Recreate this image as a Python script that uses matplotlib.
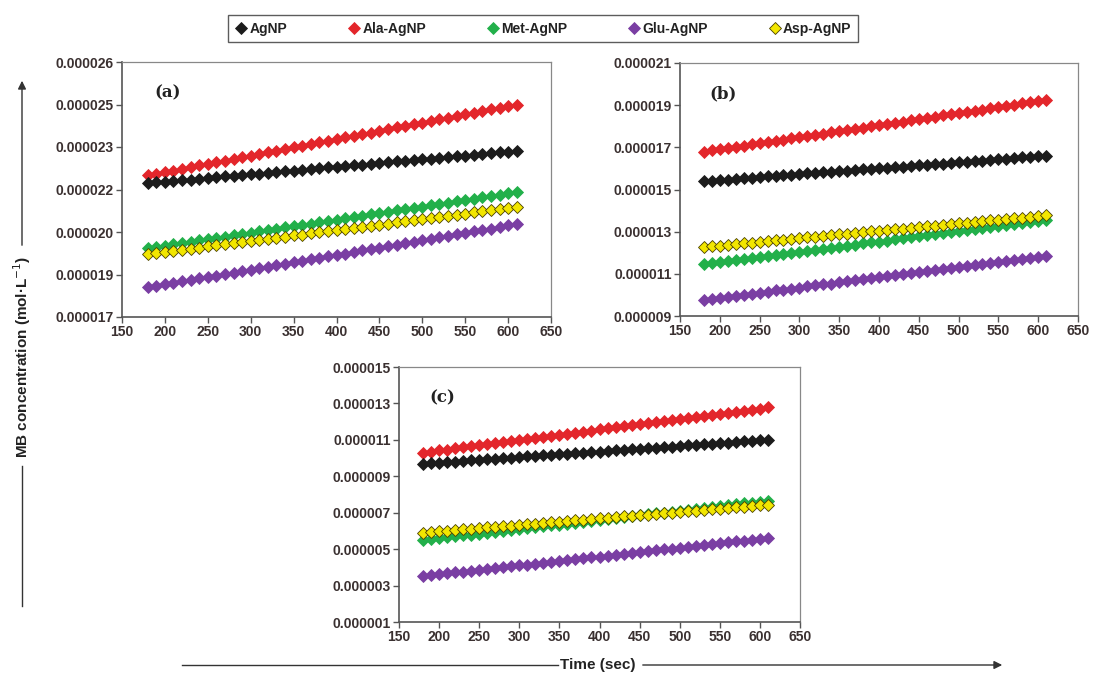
import matplotlib.pyplot as plt
from matplotlib.lines import Line2D
from matplotlib.patches import FancyArrowPatch

plt.rcParams['font.family'] = ['Liberation Sans', 'DejaVu Sans']

# time (sec)
time = [180, 190, 200, 210, 220, 230, 240, 250, 260, 270, 280, 290, 300, 310, 320,
        330, 340, 350, 360, 370, 380, 390, 400, 410, 420, 430, 440, 450, 460, 470,
        480, 490, 500, 510, 520, 530, 540, 550, 560, 570, 580, 590, 600, 610]

names = ["AgNP", "Ala-AgNP", "Met-AgNP", "Glu-AgNP", "Asp-AgNP"]

# MB concentration, in 1e-6 mol/L
# panel (a)
a_agnp = [21.72, 21.75, 21.77, 21.80, 21.83, 21.85, 21.88, 21.91, 21.93, 21.96, 21.99, 22.01, 22.04, 22.06, 22.09,
          22.12, 22.14, 22.17, 22.20, 22.22, 22.25, 22.28, 22.30, 22.33, 22.36, 22.38, 22.41, 22.44, 22.46, 22.49,
          22.52, 22.54, 22.57, 22.59, 22.62, 22.65, 22.67, 22.70, 22.73, 22.75, 22.78, 22.81, 22.83, 22.86]
a_ala = [22.00, 22.06, 22.12, 22.17, 22.23, 22.29, 22.35, 22.41, 22.47, 22.52, 22.58, 22.64, 22.70, 22.76, 22.81,
         22.87, 22.93, 22.99, 23.05, 23.10, 23.16, 23.22, 23.28, 23.34, 23.40, 23.45, 23.51, 23.57, 23.63, 23.69,
         23.74, 23.80, 23.86, 23.92, 23.98, 24.03, 24.09, 24.15, 24.21, 24.27, 24.33, 24.38, 24.44, 24.50]
a_met = [19.43, 19.48, 19.52, 19.57, 19.61, 19.66, 19.71, 19.75, 19.80, 19.84, 19.89, 19.94, 19.98, 20.03, 20.07,
         20.12, 20.17, 20.21, 20.26, 20.30, 20.35, 20.40, 20.44, 20.49, 20.54, 20.58, 20.63, 20.67, 20.72, 20.77,
         20.81, 20.86, 20.90, 20.95, 21.00, 21.04, 21.09, 21.13, 21.18, 21.23, 21.27, 21.32, 21.36, 21.41]
a_glu = [18.05, 18.10, 18.15, 18.21, 18.26, 18.31, 18.36, 18.41, 18.46, 18.52, 18.57, 18.62, 18.67, 18.72, 18.78,
         18.83, 18.88, 18.93, 18.98, 19.04, 19.09, 19.14, 19.19, 19.24, 19.29, 19.35, 19.40, 19.45, 19.50, 19.55,
         19.61, 19.66, 19.71, 19.76, 19.81, 19.87, 19.92, 19.97, 20.02, 20.07, 20.12, 20.18, 20.23, 20.28]
a_asp = [19.22, 19.26, 19.30, 19.34, 19.37, 19.41, 19.45, 19.49, 19.53, 19.57, 19.61, 19.64, 19.68, 19.72, 19.76,
         19.80, 19.84, 19.88, 19.91, 19.95, 19.99, 20.03, 20.07, 20.11, 20.15, 20.19, 20.22, 20.26, 20.30, 20.34,
         20.38, 20.42, 20.46, 20.49, 20.53, 20.57, 20.61, 20.65, 20.69, 20.73, 20.76, 20.80, 20.84, 20.88]

# panel (b)
b_agnp = [15.39, 15.42, 15.45, 15.47, 15.50, 15.53, 15.56, 15.59, 15.62, 15.64, 15.67, 15.70, 15.73, 15.76, 15.78,
          15.81, 15.84, 15.87, 15.90, 15.92, 15.95, 15.98, 16.01, 16.04, 16.06, 16.09, 16.12, 16.15, 16.18, 16.21,
          16.23, 16.26, 16.29, 16.32, 16.35, 16.37, 16.40, 16.43, 16.46, 16.49, 16.52, 16.54, 16.57, 16.60]
b_ala = [16.80, 16.86, 16.91, 16.97, 17.03, 17.08, 17.14, 17.20, 17.26, 17.31, 17.37, 17.43, 17.48, 17.54, 17.60,
         17.65, 17.71, 17.77, 17.83, 17.88, 17.94, 18.00, 18.05, 18.11, 18.17, 18.22, 18.28, 18.34, 18.40, 18.45,
         18.51, 18.57, 18.62, 18.68, 18.74, 18.79, 18.85, 18.91, 18.97, 19.02, 19.08, 19.14, 19.19, 19.25]
b_met = [11.47, 11.52, 11.57, 11.62, 11.66, 11.71, 11.76, 11.81, 11.86, 11.91, 11.95, 12.00, 12.05, 12.10, 12.15,
         12.20, 12.24, 12.29, 12.34, 12.39, 12.44, 12.49, 12.53, 12.58, 12.63, 12.68, 12.73, 12.78, 12.82, 12.87,
         12.92, 12.97, 13.02, 13.07, 13.11, 13.16, 13.21, 13.26, 13.31, 13.36, 13.40, 13.45, 13.50, 13.55]
b_glu = [9.77, 9.82, 9.87, 9.92, 9.96, 10.01, 10.06, 10.11, 10.16, 10.21, 10.25, 10.30, 10.35, 10.40, 10.45,
         10.50, 10.54, 10.59, 10.64, 10.69, 10.74, 10.79, 10.83, 10.88, 10.93, 10.98, 11.03, 11.08, 11.12, 11.17,
         11.22, 11.27, 11.32, 11.37, 11.41, 11.46, 11.51, 11.56, 11.61, 11.66, 11.70, 11.75, 11.80, 11.85]
b_asp = [12.27, 12.31, 12.34, 12.38, 12.41, 12.45, 12.48, 12.52, 12.55, 12.59, 12.62, 12.66, 12.69, 12.73, 12.76,
         12.80, 12.83, 12.87, 12.90, 12.94, 12.97, 13.01, 13.04, 13.08, 13.11, 13.15, 13.18, 13.22, 13.25, 13.29,
         13.32, 13.36, 13.39, 13.43, 13.46, 13.50, 13.53, 13.57, 13.60, 13.64, 13.67, 13.71, 13.74, 13.78]

# panel (c)
c_agnp = [9.69, 9.72, 9.75, 9.78, 9.81, 9.84, 9.87, 9.90, 9.93, 9.96, 9.99, 10.03, 10.06, 10.09, 10.12,
          10.15, 10.18, 10.21, 10.24, 10.27, 10.30, 10.33, 10.36, 10.39, 10.42, 10.45, 10.48, 10.51, 10.54, 10.57,
          10.60, 10.63, 10.66, 10.70, 10.73, 10.76, 10.79, 10.82, 10.85, 10.88, 10.91, 10.94, 10.97, 11.00]
c_ala = [10.30, 10.36, 10.42, 10.47, 10.53, 10.59, 10.65, 10.70, 10.76, 10.82, 10.88, 10.93, 10.99, 11.05, 11.11,
         11.17, 11.22, 11.28, 11.34, 11.40, 11.45, 11.51, 11.57, 11.63, 11.68, 11.74, 11.80, 11.86, 11.91, 11.97,
         12.03, 12.09, 12.15, 12.20, 12.26, 12.32, 12.38, 12.43, 12.49, 12.55, 12.61, 12.66, 12.72, 12.78]
c_met = [5.50, 5.55, 5.60, 5.65, 5.70, 5.75, 5.80, 5.85, 5.90, 5.95, 6.00, 6.05, 6.10, 6.15, 6.20,
         6.25, 6.30, 6.35, 6.40, 6.45, 6.50, 6.55, 6.61, 6.66, 6.71, 6.76, 6.81, 6.86, 6.91, 6.96,
         7.01, 7.06, 7.11, 7.16, 7.21, 7.26, 7.31, 7.36, 7.41, 7.46, 7.51, 7.56, 7.61, 7.66]
c_glu = [3.52, 3.57, 3.62, 3.67, 3.72, 3.76, 3.81, 3.86, 3.91, 3.96, 4.01, 4.06, 4.11, 4.15, 4.20,
         4.25, 4.30, 4.35, 4.40, 4.45, 4.50, 4.55, 4.59, 4.64, 4.69, 4.74, 4.79, 4.84, 4.89, 4.94,
         4.99, 5.03, 5.08, 5.13, 5.18, 5.23, 5.28, 5.33, 5.38, 5.43, 5.47, 5.52, 5.57, 5.62]
c_asp = [5.90, 5.94, 5.97, 6.01, 6.04, 6.08, 6.11, 6.15, 6.19, 6.22, 6.26, 6.29, 6.33, 6.37, 6.40,
         6.44, 6.47, 6.51, 6.54, 6.58, 6.62, 6.65, 6.69, 6.72, 6.76, 6.80, 6.83, 6.87, 6.90, 6.94,
         6.97, 7.01, 7.05, 7.08, 7.12, 7.15, 7.19, 7.22, 7.26, 7.30, 7.33, 7.37, 7.40, 7.44]

# y ticks (1e-6 mol/L) and the labels Excel printed for them
a_yticks = [17, 18.5, 20, 21.5, 23, 24.5, 26]
a_ylabels = ["0.000017", "0.000019", "0.000020", "0.000022", "0.000023", "0.000025", "0.000026"]
b_yticks = [9, 11, 13, 15, 17, 19, 21]
b_ylabels = ["0.000009", "0.000011", "0.000013", "0.000015", "0.000017", "0.000019", "0.000021"]
c_yticks = [1, 3, 5, 7, 9, 11, 13, 15]
c_ylabels = ["0.000001", "0.000003", "0.000005", "0.000007", "0.000009", "0.000011", "0.000013", "0.000015"]
xticks = [150, 200, 250, 300, 350, 400, 450, 500, 550, 600, 650]

colors = ['#1c1c1c', '#e3262b', '#22b04a', '#7a3ea3', '#f2e600']
edges = ['#1c1c1c', '#e3262b', '#22b04a', '#7a3ea3', '#4a4000']
linecol = ['#1c1c1c', '#e3262b', '#22b04a', '#7a3ea3', '#3a3a10']
order = [1, 0, 2, 4, 3]  # drawing order

W, H = 1096, 674
fig = plt.figure(figsize=(W / 100, H / 100), dpi=100)


def box(l, t, r, b):
    return [l / W, 1 - b / H, (r - l) / W, (b - t) / H]


panels = [
    (box(122, 62, 551, 317), [a_agnp, a_ala, a_met, a_glu, a_asp], a_yticks, a_ylabels, "(a)"),
    (box(680, 63, 1078, 316), [b_agnp, b_ala, b_met, b_glu, b_asp], b_yticks, b_ylabels, "(b)"),
    (box(399, 367, 800, 622), [c_agnp, c_ala, c_met, c_glu, c_asp], c_yticks, c_ylabels, "(c)"),
]

for rect, series, yt, yl, tag in panels:
    ax = fig.add_axes(rect)
    for i in order:
        ax.plot(time, series[i], color=linecol[i], lw=0.8)
        ax.plot(time, series[i], linestyle='none', marker='D', markersize=6.2,
                color=colors[i], markeredgecolor=edges[i], markeredgewidth=0.6)
    ax.set_xlim(150, 650)
    ax.set_ylim(yt[0], yt[-1])
    ax.set_xticks(xticks)
    ax.set_yticks(yt)
    ax.set_yticklabels(yl)
    ax.tick_params(direction='out', length=4, width=1, colors='#555555',
                   labelsize=10, labelcolor='#3a3030', pad=2)
    for lab in ax.get_xticklabels() + ax.get_yticklabels():
        lab.set_fontweight('bold')
    for s in ['left', 'bottom']:
        ax.spines[s].set_color('#555555')
        ax.spines[s].set_linewidth(1.2)
    for s in ['top', 'right']:
        ax.spines[s].set_color('#888888')
        ax.spines[s].set_linewidth(0.9)
    ax.text(0.075, 0.86, tag, transform=ax.transAxes, fontsize=12, fontweight='bold',
            family='DejaVu Serif', color='#222222')

# legend
handles = [Line2D([], [], linestyle='none', marker='D', markersize=6, color=colors[i],
                  markeredgecolor=edges[i], markeredgewidth=0.6) for i in range(5)]
leg = fig.legend(handles, names, loc='center', bbox_to_anchor=(543 / W, 1 - 28.5 / H), ncol=5,
                 frameon=True, fancybox=False, edgecolor='#333333', columnspacing=4.3,
                 handletextpad=0.1, handlelength=1.0, borderpad=0.45,
                 prop={'size': 10, 'weight': 'bold'})
leg.get_frame().set_linewidth(1.0)
for t in leg.get_texts():
    t.set_color('#222222')


def fx(x):
    return x / W


def fy(y):
    return 1 - y / H


arrow = dict(arrowstyle='-|>', color='#333333', lw=1.0, mutation_scale=12)

# y axis title with arrow
fig.add_artist(Line2D([fx(22), fx(22)], [fy(606), fy(466)], color='#333333', lw=1.0))
fig.text(fx(22), fy(357), "MB concentration (mol\u00b7L$^{-1}$)", rotation=90, ha='center', va='center',
         fontsize=11, fontweight='bold', color='#222222')
fig.add_artist(FancyArrowPatch((fx(22), fy(248)), (fx(22), fy(78)), transform=fig.transFigure, **arrow))

# x axis title with arrow
fig.add_artist(Line2D([fx(182), fx(558)], [fy(665), fy(665)], color='#333333', lw=1.0))
fig.text(fx(598), fy(665), "Time (sec)", ha='center', va='center',
         fontsize=11, fontweight='bold', color='#222222')
fig.add_artist(FancyArrowPatch((fx(640), fy(665)), (fx(1005), fy(665)), transform=fig.transFigure, **arrow))

fig.savefig("out.png", dpi=100)
